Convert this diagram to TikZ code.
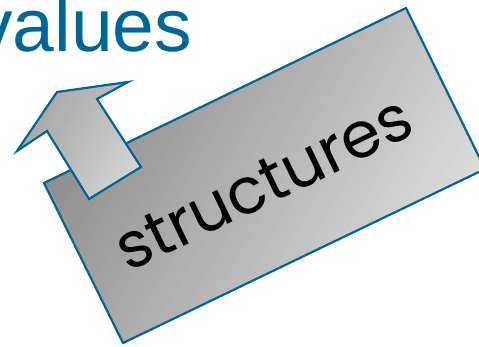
\documentclass[tikz,border=0pt]{standalone}
\usepackage{fontspec}
\setmainfont{Liberation Sans}
\newfontfamily\handfont{Poppins}
\definecolor{edgeblue}{HTML}{006699}
\definecolor{panelDark}{HTML}{8E8E8E}
\definecolor{panelLight}{HTML}{DCDCDC}
\definecolor{arrowDark}{HTML}{A8A8A8}
\definecolor{arrowLight}{HTML}{D4D4D4}
\tikzset{
  outline/.style={draw=edgeblue, line width=2.2pt, line join=miter},
  titletext/.style={text=edgeblue, font=\fontsize{75}{82}\selectfont, inner sep=0pt, anchor=base west},
  handtext/.style={font=\handfont\fontsize{64}{70}\selectfont, inner sep=0pt, anchor=base, rotate=25.8}
}
\begin{document}
\begin{tikzpicture}[x=1pt,y=-1pt]
\useasboundingbox (0,0) rectangle (479,346);
\clip (0,0) rectangle (479,346);
\node[titletext] (values) at (-25,51) {values};
% panel
\coordinate (r1) at (44,183);
\coordinate (r2) at (406,8);
\coordinate (r3) at (485,169);
\coordinate (r4) at (123,343);
\begin{scope}
  \clip (r1) -- (r2) -- (r3) -- (r4) -- cycle;
  \foreach \i in {0,...,59} {
    \pgfmathsetmacro{\pa}{126+\i*6.3}
    \pgfmathsetmacro{\pb}{\pa+7.2}
    \pgfmathsetmacro{\pct}{100-\i*100/59}
    \fill[panelDark!\pct!panelLight]
      ({\pa*0.87+197.2},{\pa*0.493-348}) -- ({\pa*0.87-197.2},{\pa*0.493+348}) --
      ({\pb*0.87-197.2},{\pb*0.493+348}) -- ({\pb*0.87+197.2},{\pb*0.493-348}) -- cycle;
  }
\end{scope}
\path[outline] (r1) -- (r2) -- (r3) -- (r4) -- cycle;
\node[handtext] (structures) at (273,203) {structures};
% arrow
\coordinate (a1) at (89,199);
\coordinate (a2) at (141,167);
\coordinate (a3) at (97,99);
\coordinate (a4) at (128,82);
\coordinate (a5) at (57,92);
\coordinate (a6) at (17,151);
\coordinate (a7) at (47,131);
\begin{scope}
  \clip (a1) -- (a2) -- (a3) -- (a4) -- (a5) -- (a6) -- (a7) -- cycle;
  \foreach \i in {0,...,29} {
    \pgfmathsetmacro{\pa}{86+\i*4.0}
    \pgfmathsetmacro{\pb}{\pa+4.8}
    \pgfmathsetmacro{\pct}{100-\i*100/29}
    \fill[arrowDark!\pct!arrowLight]
      ({\pa*0.87+98.6},{\pa*0.493-174}) -- ({\pa*0.87-98.6},{\pa*0.493+174}) --
      ({\pb*0.87-98.6},{\pb*0.493+174}) -- ({\pb*0.87+98.6},{\pb*0.493-174}) -- cycle;
  }
\end{scope}
\path[outline] (a1) -- (a2) -- (a3) -- (a4) -- (a5) -- (a6) -- (a7) -- cycle;
\end{tikzpicture}
\end{document}
